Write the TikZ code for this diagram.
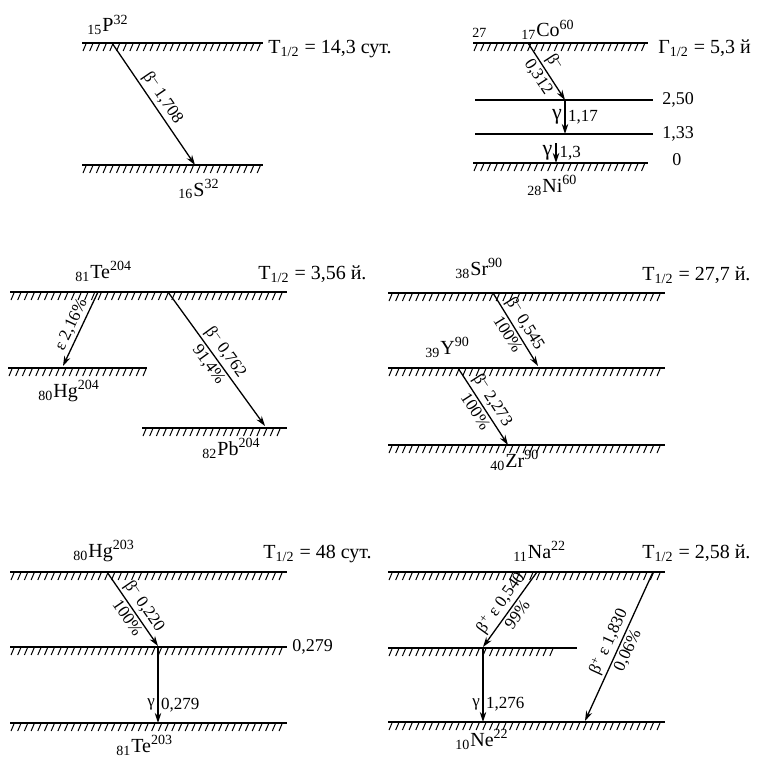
\documentclass[tikz,border=0pt]{standalone}
\usepackage{fontspec}
\setmainfont{Liberation Serif}
\usetikzlibrary{arrows.meta}

\newcommand{\nucl}[3]{\textsubscript{#1}#2\textsuperscript{#3}}
\newcommand{\betaminus}{β\textsuperscript{--}}
\newcommand{\betaplus}{β\textsuperscript{+}}
% hatched level: x1, x2, y
\newcommand{\groundlevel}[3]{%
  \draw[level] (#1,#3) -- (#2,#3);
  \pgfmathsetmacro{\hA}{#1+1}
  \pgfmathsetmacro{\hB}{#1+7.7}
  \pgfmathsetmacro{\hC}{#2-4}
  \foreach \hx in {\hA,\hB,...,\hC}
    \draw[hatchstroke] (\hx,#3+8) -- (\hx+3,#3+1);
}

\tikzset{
  level/.style={line width=1pt},
  hatchstroke/.style={line width=0.5pt},
  decay/.style={line width=0.65pt, -{Stealth[length=5pt,width=3.2pt]}},
  nuclide/.style={font=\fontsize{10}{12}\selectfont, inner sep=0pt, anchor=base west},
  halflife/.style={font=\fontsize{10}{12}\selectfont, inner sep=0pt, anchor=base west},
  decaylabel/.style={font=\fontsize{8.5}{10}\selectfont, inner sep=1.2pt},
  energy/.style={font=\fontsize{9}{11}\selectfont, inner sep=1pt, anchor=west},
}

\begin{document}
\begin{tikzpicture}[x=0.5pt, y=-0.5pt]
    \useasboundingbox (0,0) rectangle (763,765);

    % P-32 (top left)
    \groundlevel{82}{263}{43}
    \groundlevel{82}{263}{165}
    \node (p32) at (87,32) [nuclide] {\nucl{15}{P}{32}};
    \node (s32) at (178,196) [nuclide] {\nucl{16}{S}{32}};
    \node (p32half) at (268,54) [halflife] {T\textsubscript{1/2} = 14,3 сут.};
    \coordinate (p32top) at (112,43);
    \coordinate (s32top) at (195,165);
    \draw[decay] (p32top) -- node[decaylabel, sloped, above] {\betaminus\ 1,708} (s32top);

    % Co-60 (top right)
    \groundlevel{473}{648}{43}
    \draw[level] (475,100) -- (653,100);
    \draw[level] (475,134) -- (653,134);
    \groundlevel{473}{648}{163}
    \node (co27) at (472,38) [nuclide, font=\fontsize{7}{8}\selectfont] {27};
    \node (co60) at (521,37) [nuclide] {\nucl{17}{Co}{60}};
    \node (ni60) at (527,192) [nuclide] {\nucl{28}{Ni}{60}};
    \node (cohalf) at (658,54) [halflife] {Γ\textsubscript{1/2} = 5,3 й};
    \node (e250) at (660,100) [energy] {2,50};
    \node (e133) at (660,134) [energy] {1,33};
    \node (e0) at (670,160) [energy] {0};
    \coordinate (co60top) at (528,43);
    \coordinate (ni250) at (565,100);
    \coordinate (ni133) at (565,134);
    \coordinate (ni133b) at (556,143);
    \coordinate (ni0) at (556,163);
    \draw[decay] (co60top) -- node[decaylabel, sloped, above, pos=0.45] {\betaminus}
        node[decaylabel, sloped, below] {0,312} (ni250);
    \draw[decay] (ni250) -- node[decaylabel, left, font=\fontsize{11}{12}\selectfont] {γ}
        node[decaylabel, right] {1,17} (ni133);
    \draw[decay, line width=1.2pt] (ni133b) -- node[decaylabel, left, font=\fontsize{11}{12}\selectfont] {γ}
        node[decaylabel, right] {1,3} (ni0);

    % Te-204 (middle left)
    \groundlevel{10}{287}{292}
    \groundlevel{8}{147}{368}
    \groundlevel{142}{287}{428}
    \node (te204) at (75,278) [nuclide] {\nucl{81}{Te}{204}};
    \node (hg204) at (38,397) [nuclide] {\nucl{80}{Hg}{204}};
    \node (pb204) at (202,455) [nuclide] {\nucl{82}{Pb}{204}};
    \node (tehalf) at (258,279) [halflife] {T\textsubscript{1/2} = 3,56 й.};
    \coordinate (te204a) at (98,292);
    \coordinate (hg204top) at (63,366);
    \coordinate (te204b) at (168,292);
    \coordinate (pb204top) at (265,426);
    \draw[decay] (te204a) -- node[decaylabel, sloped, above] {ε 2,16\%} (hg204top);
    \draw[decay] (te204b) -- node[decaylabel, sloped, above] {\betaminus\ 0,762}
        node[decaylabel, sloped, below] {91,4\%} (pb204top);

    % Sr-90 (middle right)
    \groundlevel{388}{665}{293}
    \groundlevel{388}{665}{368}
    \groundlevel{388}{665}{445}
    \node (sr90) at (455,275) [nuclide] {\nucl{38}{Sr}{90}};
    \node (y90) at (425,354) [nuclide] {\nucl{39}{Y}{90}};
    \node (zr90) at (490,467) [nuclide] {\nucl{40}{Zr}{90}};
    \node (srhalf) at (642,280) [halflife] {T\textsubscript{1/2} = 27,7 й.};
    \coordinate (sr90top) at (493,293);
    \coordinate (y90top) at (538,366);
    \coordinate (y90a) at (458,368);
    \coordinate (zr90top) at (508,445);
    \draw[decay] (sr90top) -- node[decaylabel, sloped, above] {\betaminus\ 0,545}
        node[decaylabel, sloped, below] {100\%} (y90top);
    \draw[decay] (y90a) -- node[decaylabel, sloped, above] {\betaminus\ 2,273}
        node[decaylabel, sloped, below] {100\%} (zr90top);

    % Hg-203 (bottom left)
    \groundlevel{10}{287}{572}
    \groundlevel{10}{287}{647}
    \groundlevel{10}{287}{723}
    \node (hg203) at (73,557) [nuclide] {\nucl{80}{Hg}{203}};
    \node (te203) at (116,752) [nuclide] {\nucl{81}{Te}{203}};
    \node (hghalf) at (263,558) [halflife] {T\textsubscript{1/2} = 48 сут.};
    \node (e279) at (290,647) [energy] {0,279};
    \coordinate (hg203top) at (107,572);
    \coordinate (te279) at (158,646);
    \coordinate (te279b) at (158,647);
    \coordinate (te0) at (158,723);
    \draw[decay] (hg203top) -- node[decaylabel, sloped, above, pos=0.55] {\betaminus\ 0,220}
        node[decaylabel, sloped, below, pos=0.55] {100\%} (te279);
    \draw[decay] (te279b) -- node[decaylabel, left, pos=0.76] {γ}
        node[decaylabel, right, pos=0.76] {0,279} (te0);

    % Na-22 (bottom right)
    \groundlevel{388}{665}{572}
    \groundlevel{388}{557}{648}
    \draw[level] (557,648) -- (577,648);
    \groundlevel{388}{665}{722}
    \node (na22) at (513,558) [nuclide] {\nucl{11}{Na}{22}};
    \node (ne22) at (455,746) [nuclide] {\nucl{10}{Ne}{22}};
    \node (nahalf) at (642,558) [halflife] {T\textsubscript{1/2} = 2,58 й.};
    \coordinate (na22a) at (537,572);
    \coordinate (ne1276) at (483,647);
    \coordinate (ne1276b) at (483,648);
    \coordinate (ne0a) at (483,722);
    \coordinate (na22b) at (653,572);
    \coordinate (ne0b) at (585,721);
    \draw[decay] (na22a) -- node[decaylabel, sloped, above] {\betaplus\ ε 0,540}
        node[decaylabel, sloped, below] {99\%} (ne1276);
    \draw[decay] (ne1276b) -- node[decaylabel, left, pos=0.76] {γ}
        node[decaylabel, right, pos=0.76] {1,276} (ne0a);
    \draw[decay] (na22b) -- node[decaylabel, sloped, above] {\betaplus\ ε 1,830}
        node[decaylabel, sloped, below] {0,06\%} (ne0b);

\end{tikzpicture}
\end{document}
